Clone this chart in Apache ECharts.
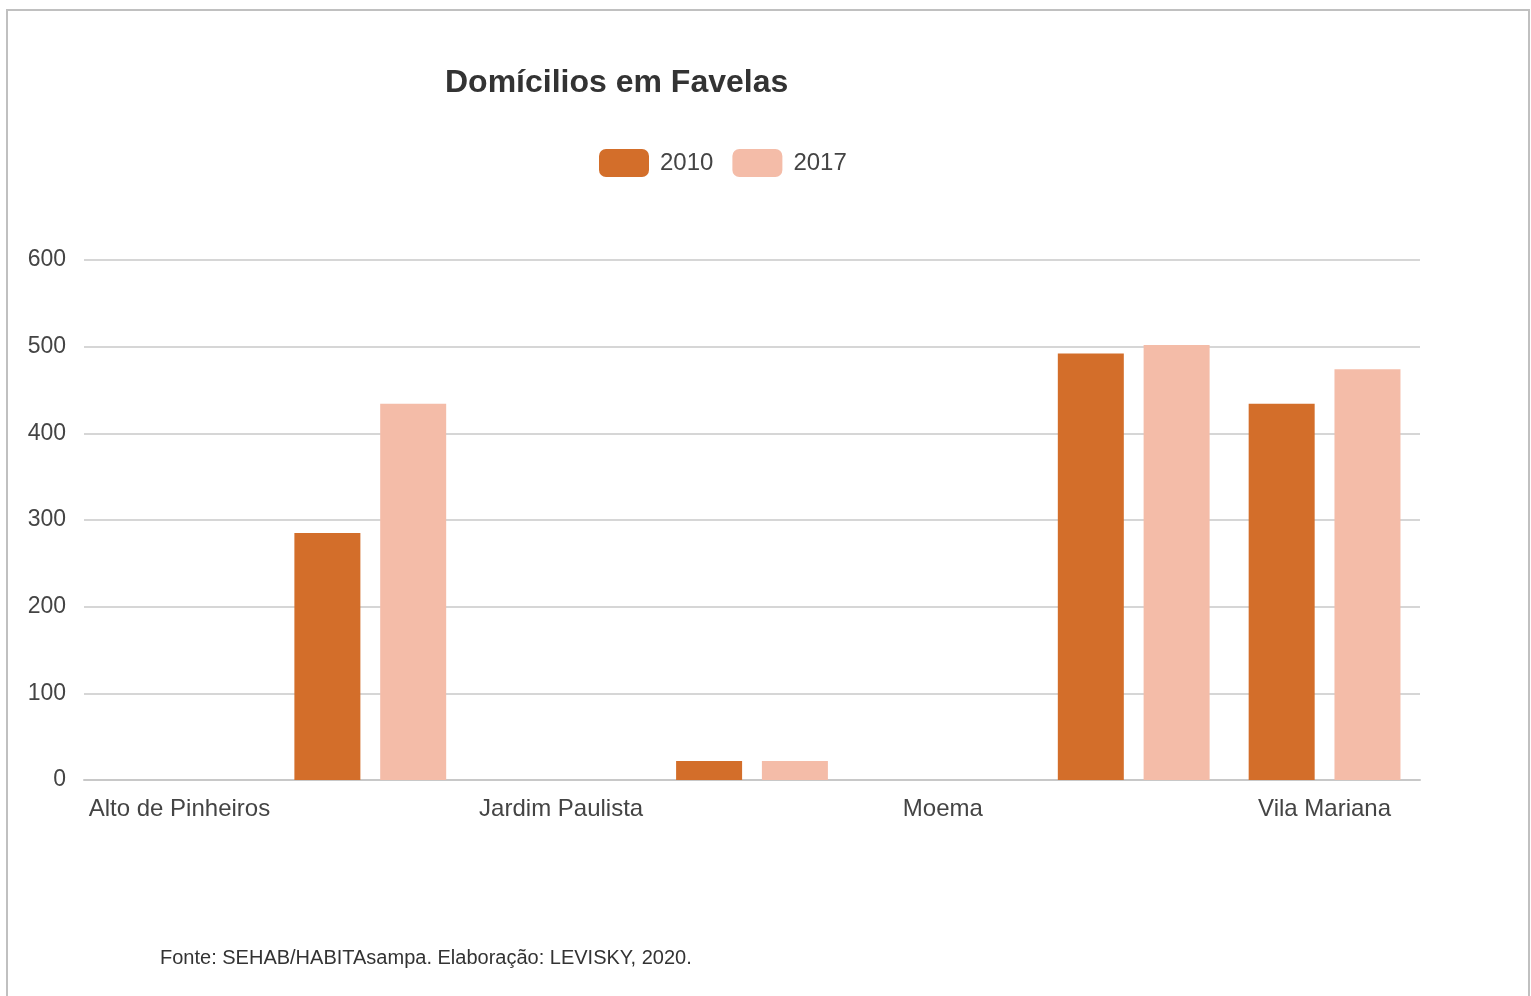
<!DOCTYPE html>
<html>
<head>
<meta charset="utf-8">
<title>Domícilios em Favelas</title>
<script src="https://cdn.jsdelivr.net/npm/echarts@6/dist/echarts.min.js"></script>
<style>
  html, body { margin: 0; padding: 0; background: #fff; }
  #wrap { position: relative; width: 1531px; height: 996px; overflow: hidden; }
  #chart { position: absolute; left: 0; top: 0; width: 1531px; height: 996px; }
  .frame {
    position: absolute; left: 6px; top: 9px; width: 1520px; height: 1000px;
    border: 2px solid #c0c0c0; border-bottom: none; pointer-events: none;
  }
</style>
</head>
<body>
<div id="wrap">
  <div id="chart"></div>
  <div class="frame"></div>
</div>
<script>
// dados
const distritos = ['Alto de Pinheiros', 'Itaim Bibi', 'Jardim Paulista', 'Pinheiros', 'Moema', 'Saúde', 'Vila Mariana'];
const anos = ['2010', '2017'];
const dados2010 = [0, 285, 0, 22, 0, 492, 434];
const dados2017 = [0, 434, 0, 22, 0, 502, 474];
const yTicks = [0, 100, 200, 300, 400, 500, 600];

const fonte = "'Liberation Sans', Arial, Helvetica, sans-serif";
const cores = ['#D36E2A', '#F4BCA8'];

let myChart = echarts.init(document.getElementById('chart'));
let option = {
  animation: false,
  textStyle: { fontFamily: fonte },
  title: {
    text: 'Domícilios em Favelas',
    left: 440,
    top: 62,
    textStyle: { fontSize: 32, fontWeight: 'bold', color: '#333', fontFamily: fonte }
  },
  legend: {
    data: anos,
    left: 594,
    top: 144,
    itemWidth: 50,
    itemHeight: 28,
    itemGap: 19,
    icon: 'roundRect',
    textStyle: { fontSize: 24, color: '#444', fontFamily: fonte, padding: [0, 0, 0, 6] }
  },
  grid: {
    left: 84,
    right: 111,
    top: 260,
    bottom: 216,
    containLabel: false
  },
  xAxis: {
    type: 'category',
    data: distritos,
    axisTick: { show: false },
    axisLine: { show: true, lineStyle: { color: '#c8c8c8', width: 2 } },
    axisLabel: {
      interval: 1,
      margin: 17,
      fontSize: 24,
      color: '#444',
      fontFamily: fonte
    }
  },
  yAxis: {
    type: 'value',
    min: yTicks[0],
    max: yTicks[yTicks.length - 1],
    interval: 100,
    axisLine: { show: false },
    axisTick: { show: false },
    axisLabel: { margin: 18, fontSize: 23, color: '#444', fontFamily: fonte },
    splitLine: { show: true, lineStyle: { color: '#d6d6d6', width: 2 } }
  },
  series: [
    {
      name: anos[0],
      type: 'bar',
      data: dados2010,
      barWidth: 66,
      barGap: '30%',
      itemStyle: { color: cores[0] }
    },
    {
      name: anos[1],
      type: 'bar',
      data: dados2017,
      barWidth: 66,
      barGap: '30%',
      itemStyle: { color: cores[1] }
    }
  ],
  graphic: [
    {
      type: 'text',
      left: 160,
      top: 948,
      style: {
        text: 'Fonte: SEHAB/HABITAsampa. Elaboração: LEVISKY, 2020.',
        fontSize: 20,
        fill: '#333',
        fontFamily: fonte
      }
    }
  ]
};
myChart.setOption(option);
</script>
</body>
</html>
